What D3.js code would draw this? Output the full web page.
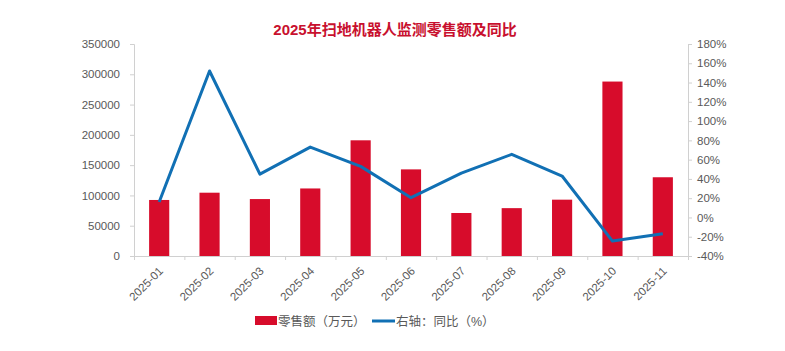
<!DOCTYPE html>
<html>
<head>
<meta charset="utf-8">
<script src="https://cdn.jsdelivr.net/npm/d3@7"></script>
<style>
  body { margin: 0; background: #fff; }
  text { font-family: "Liberation Sans", "Noto Sans CJK SC", sans-serif; }
</style>
</head>
<body>
<svg id="chart"></svg>
<script>
(() => {

    const WIDTH = 785;
    const HEIGHT = 351;
    const MARGIN = { top: 44, right: 97, bottom: 95, left: 134 };
    const BAR_COLOR = "#d70c2b";
    const LINE_COLOR = "#1170b4";
    const AXIS_COLOR = "#d0d0d0";
    const TEXT_COLOR = "#595959";

    const months = ["2025-01", "2025-02", "2025-03", "2025-04", "2025-05", "2025-06",
        "2025-07", "2025-08", "2025-09", "2025-10", "2025-11"];
    const retail = [92500, 104500, 94000, 111500, 191000, 143000, 71000, 79000, 93000, 288000, 130000];
    const yoy = [16, 152, 45, 73, 53, 20.5, 46, 65.5, 43, -24.5, -17];
    const leftTicks = [0, 50000, 100000, 150000, 200000, 250000, 300000, 350000];
    const rightTicks = [-40, -20, 0, 20, 40, 60, 80, 100, 120, 140, 160, 180];

    let innerW = WIDTH - MARGIN.left - MARGIN.right;
    let innerH = HEIGHT - MARGIN.top - MARGIN.bottom;

    let svg = d3.select("#chart")
        .attr("width", WIDTH)
        .attr("height", HEIGHT);

    svg.append("text")
        .attr("x", 395)
        .attr("y", 35)
        .attr("text-anchor", "middle")
        .attr("fill", "#c8102e")
        .attr("font-size", 15)
        .attr("font-weight", "bold")
        .text("2025年扫地机器人监测零售额及同比");

    let g = svg.append("g")
        .attr("transform", `translate(${MARGIN.left}, ${MARGIN.top})`);

    let x = d3.scaleBand().domain(months).range([0, innerW]).paddingInner(0.6).paddingOuter(0.3);
    let xBound = d3.scaleLinear().domain([0, months.length]).range([0, innerW]);
    let yLeft = d3.scaleLinear().domain([0, 350000]).range([innerH, 0]);
    let yRight = d3.scaleLinear().domain([-40, 180]).range([innerH, 0]);

    // bars
    g.selectAll("rect.bar")
        .data(retail)
        .enter()
        .append("rect")
        .attr("class", "bar")
        .attr("x", (d, i) => x(months[i]))
        .attr("width", x.bandwidth())
        .attr("y", d => yLeft(d))
        .attr("height", d => innerH - yLeft(d))
        .attr("fill", BAR_COLOR);

    function styleAxis(sel) {
        sel.selectAll("path, line").attr("stroke", AXIS_COLOR);
        sel.selectAll("text")
            .attr("fill", TEXT_COLOR)
            .attr("font-size", 11.5);
    }

    // left axis
    g.append("g")
        .call(d3.axisLeft(yLeft).tickValues(leftTicks).tickFormat(d3.format("d")).tickSizeOuter(0).tickSize(4).tickPadding(10))
        .call(styleAxis);

    // right axis
    g.append("g")
        .attr("transform", `translate(${innerW}, 0)`)
        .call(d3.axisRight(yRight).tickValues(rightTicks).tickFormat(d => d + "%").tickSizeOuter(0).tickSize(4).tickPadding(5))
        .call(styleAxis);

    // x axis with ticks on category boundaries
    let xAxis = g.append("g")
        .attr("transform", `translate(0, ${innerH})`);
    xAxis.call(d3.axisBottom(xBound).tickValues(d3.range(0, months.length + 1)).tickFormat("").tickSize(4).tickSizeOuter(0))
        .call(styleAxis);
    xAxis.selectAll("text.month")
        .data(months)
        .enter()
        .append("text")
        .attr("class", "month")
        .attr("transform", d => `translate(${x(d) + x.bandwidth() / 2 - 1}, 10) rotate(-45)`)
        .attr("text-anchor", "end")
        .attr("dy", "0.7em")
        .attr("fill", TEXT_COLOR)
        .attr("font-size", 11.5)
        .text(d => d);

    // line
    let line = d3.line()
        .x((d, i) => x(months[i]) + x.bandwidth() / 2)
        .y(d => yRight(d));
    g.append("path")
        .datum(yoy)
        .attr("d", line)
        .attr("fill", "none")
        .attr("stroke", LINE_COLOR)
        .attr("stroke-width", 3)
        .attr("stroke-linejoin", "round");

    // legend
    let legend = svg.append("g").attr("transform", "translate(255, 321)");
    legend.append("rect")
        .attr("x", 0).attr("y", -5)
        .attr("width", 22).attr("height", 9)
        .attr("fill", BAR_COLOR);
    legend.append("text")
        .attr("x", 23).attr("y", 4.5)
        .attr("fill", TEXT_COLOR)
        .attr("font-size", 12.5)
        .text("零售额（万元）");
    legend.append("line")
        .attr("x1", 117).attr("x2", 140)
        .attr("y1", 0).attr("y2", 0)
        .attr("stroke", LINE_COLOR)
        .attr("stroke-width", 3);
    legend.append("text")
        .attr("x", 141).attr("y", 4.5)
        .attr("fill", TEXT_COLOR)
        .attr("font-size", 12.5)
        .text("右轴：同比（%）");

})();
</script>
</body>
</html>
